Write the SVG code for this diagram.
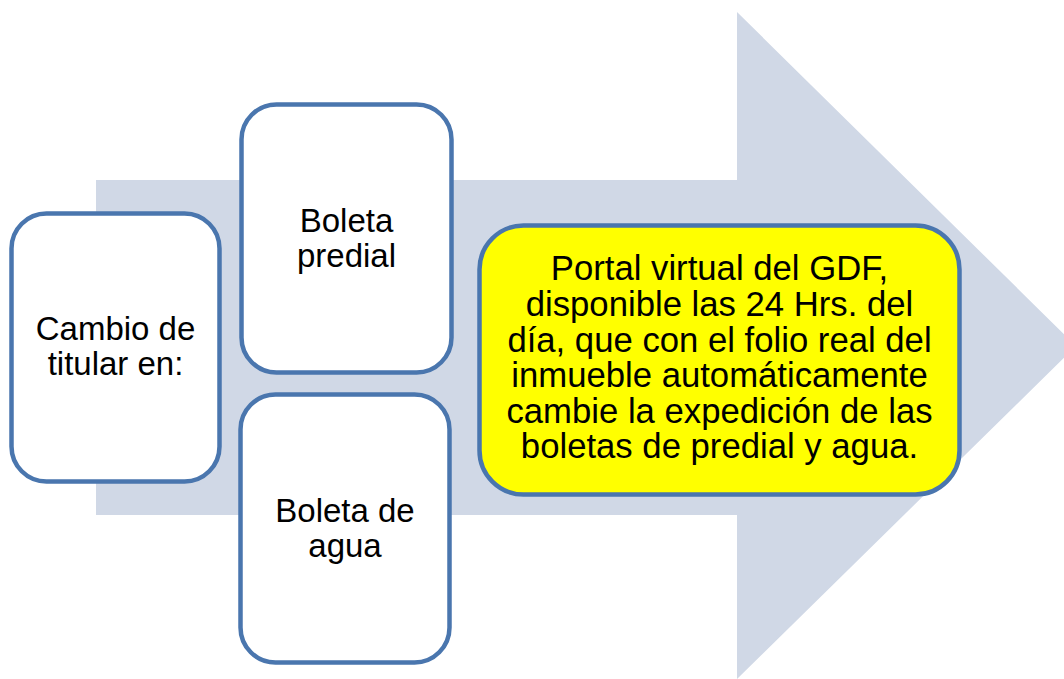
<svg xmlns="http://www.w3.org/2000/svg" width="1064" height="679" viewBox="0 0 1064 679">
<style>
.box{fill:#FFFFFF;stroke:#4A76AE;stroke-width:4.5}
.hl{fill:#FFFF00}
.t{font-family:"Liberation Sans",Arial,sans-serif;font-size:33px;fill:#000000;text-anchor:middle}
.t2{font-size:34.7px}
</style>
<rect width="1064" height="679" fill="#FFFFFF"/>
<g id="arrow">
<path d="M96,180 H737 V12 L1076,346 L737,679 V515 H96 Z" fill="#D0D8E6"/>
</g>
<g id="connectors"></g>
<g id="node-cambio">
<rect class="box" x="11.5" y="213.5" width="208" height="268" rx="35"/>
<text class="t" x="115.5" y="340">Cambio de</text>
<text class="t" x="115.5" y="375">titular en:</text>
</g>
<g id="node-predial">
<rect class="box" x="241.5" y="104.5" width="210" height="268" rx="35"/>
<text class="t" x="346.5" y="232">Boleta</text>
<text class="t" x="346.5" y="267">predial</text>
</g>
<g id="node-agua">
<rect class="box" x="240.5" y="394.5" width="209" height="268" rx="35"/>
<text class="t" x="345" y="522">Boleta de</text>
<text class="t" x="345" y="557">agua</text>
</g>
<g id="node-portal">
<rect class="box hl" x="479.5" y="225.5" width="480" height="269" rx="44"/>
<text class="t t2" x="719.5" y="280">Portal virtual del GDF,</text>
<text class="t t2" x="719.5" y="316">disponible las 24 Hrs. del</text>
<text class="t t2" x="719.5" y="351.5">día, que con el folio real del</text>
<text class="t t2" x="719.5" y="387">inmueble automáticamente</text>
<text class="t t2" x="719.5" y="422.5">cambie la expedición de las</text>
<text class="t t2" x="719.5" y="458">boletas de predial y agua.</text>
</g>
</svg>
